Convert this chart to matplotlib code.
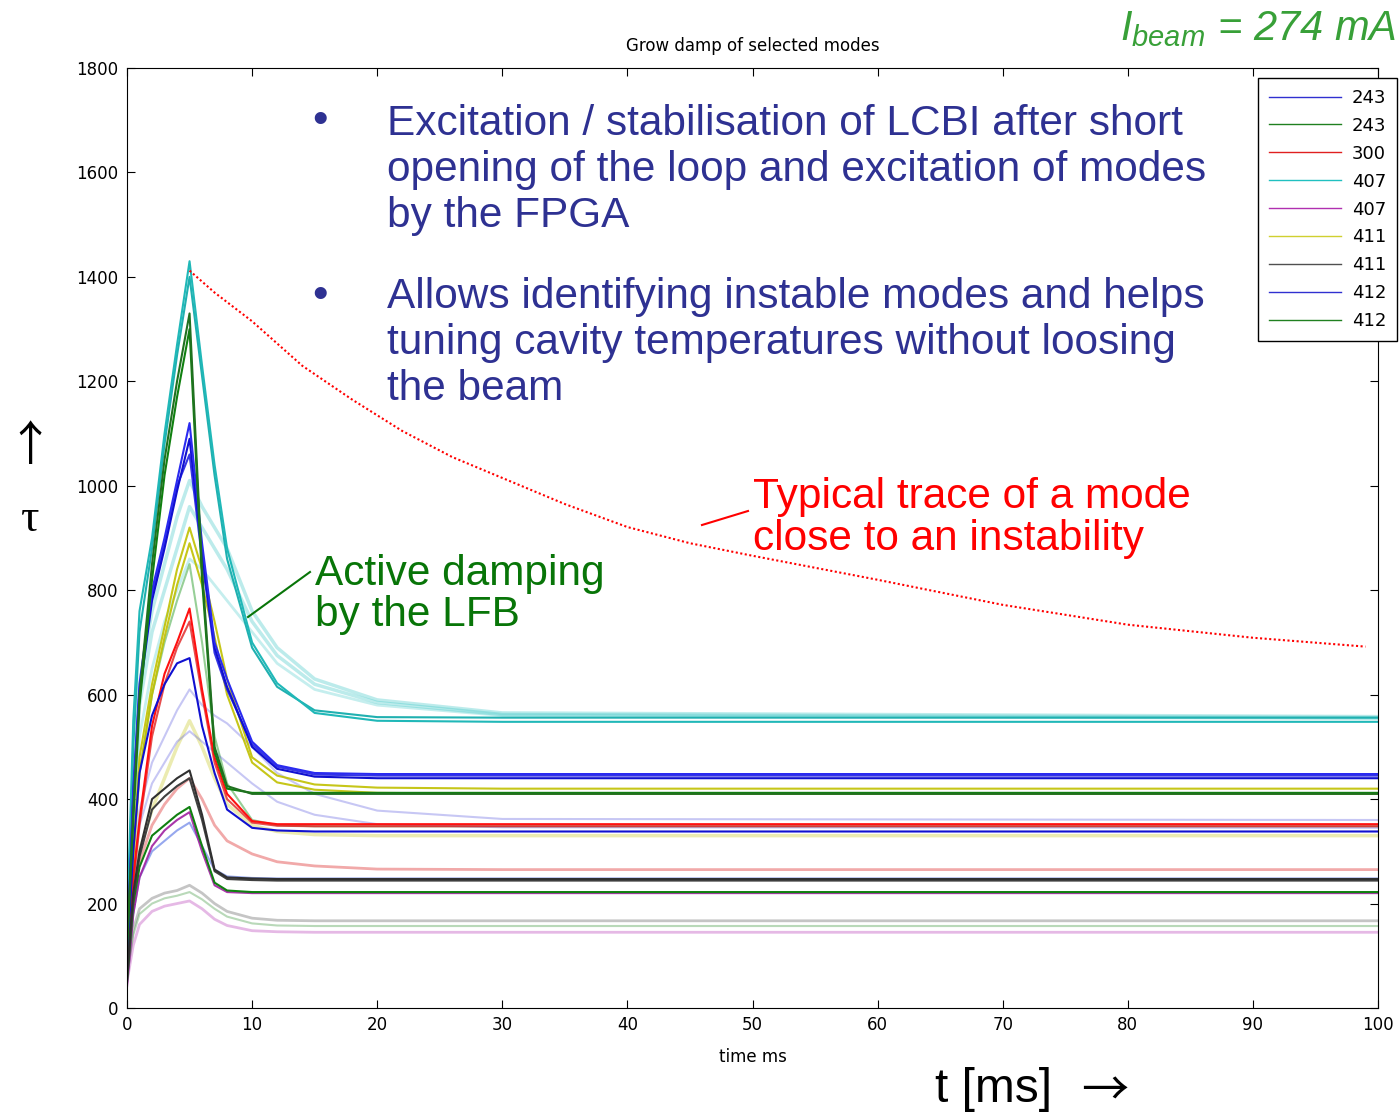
import matplotlib
matplotlib.use("Agg")
import matplotlib.pyplot as plt
from matplotlib.lines import Line2D

# time knots (ms) shared by all mode traces
t_knots = [0, 0.5, 1, 2, 3, 4, 5, 6, 7, 8, 10, 12, 15, 20, 30, 100]

# tau values at the knots
cyan_a = [150, 550, 760, 900, 1100, 1270, 1430, 1230, 1040, 880, 700, 622, 565, 550, 548, 548]
cyan_b = [130, 500, 720, 880, 1080, 1250, 1400, 1210, 1020, 860, 690, 615, 570, 557, 556, 556]
cyan_l1 = [120, 420, 620, 760, 850, 940, 1010, 960, 920, 880, 760, 690, 630, 590, 565, 558]
cyan_l2 = [110, 380, 580, 720, 800, 880, 960, 920, 880, 840, 740, 675, 620, 585, 562, 556]
cyan_l3 = [100, 350, 520, 650, 740, 800, 860, 840, 810, 780, 720, 660, 610, 580, 560, 554]
green_a = [120, 380, 600, 850, 1050, 1200, 1330, 840, 500, 425, 410, 410, 410, 410, 410, 410]
green_b = [110, 360, 580, 820, 1020, 1170, 1300, 820, 490, 420, 412, 412, 412, 412, 412, 412]
green_l = [100, 300, 450, 600, 700, 780, 850, 700, 520, 430, 360, 350, 348, 348, 348, 348]
blue_a = [100, 420, 620, 800, 900, 1010, 1120, 890, 700, 630, 510, 465, 450, 448, 448, 448]
blue_b = [90, 400, 600, 780, 880, 990, 1090, 870, 690, 615, 500, 458, 443, 440, 440, 440]
blue_c = [95, 410, 610, 790, 890, 1000, 1060, 860, 680, 610, 505, 462, 447, 445, 445, 445]
blue_d = [90, 300, 450, 560, 620, 660, 670, 540, 450, 380, 345, 340, 338, 338, 338, 338]
yellow_a = [90, 300, 480, 620, 730, 840, 920, 840, 740, 630, 480, 445, 428, 422, 420, 420]
yellow_b = [80, 280, 450, 600, 710, 810, 890, 810, 710, 600, 470, 432, 418, 412, 410, 410]
yellow_l = [70, 200, 300, 380, 440, 500, 550, 500, 440, 390, 350, 338, 332, 330, 330, 330]
red_a = [80, 250, 360, 540, 640, 700, 765, 610, 480, 410, 358, 352, 352, 352, 352, 352]
red_b = [75, 240, 350, 520, 620, 690, 740, 600, 470, 400, 355, 349, 348, 348, 348, 348]
pink_a = [70, 200, 280, 350, 390, 420, 440, 400, 350, 320, 295, 280, 272, 266, 265, 265]
purple_l1 = [70, 250, 380, 470, 520, 570, 610, 580, 560, 545, 500, 450, 410, 378, 362, 360]
purple_l2 = [65, 230, 350, 430, 470, 510, 530, 510, 490, 470, 430, 395, 370, 352, 346, 345]
gray_a = [60, 220, 300, 400, 420, 440, 455, 370, 265, 250, 248, 247, 247, 247, 247, 247]
gray_b = [55, 210, 290, 380, 405, 425, 440, 360, 262, 247, 245, 244, 244, 244, 244, 244]
green_c = [50, 200, 270, 330, 350, 370, 385, 310, 240, 225, 222, 222, 222, 222, 222, 222]
magenta_a = [40, 180, 250, 310, 340, 360, 375, 300, 235, 222, 220, 220, 220, 220, 220, 220]
lblue_a = [50, 180, 250, 300, 320, 340, 355, 310, 265, 252, 249, 248, 248, 248, 248, 248]
lgray_a = [60, 150, 190, 210, 220, 225, 235, 220, 200, 185, 172, 168, 167, 167, 167, 167]
lgreen_a = [60, 140, 180, 200, 210, 215, 222, 208, 190, 175, 162, 158, 157, 157, 157, 157]
lpink_a = [50, 120, 160, 185, 195, 200, 205, 190, 170, 158, 148, 146, 145, 145, 145, 145]

# red dotted "typical trace"
trace_t = [5, 7, 10, 14, 18, 22, 26, 30, 35, 40, 45, 50, 60, 70, 80, 90, 99]
trace_v = [1412, 1370, 1315, 1230, 1165, 1105, 1055, 1015, 965, 921, 890, 866, 820, 772, 734, 709, 692]

legend_labels = ["243", "243", "300", "407", "407", "411", "411", "412", "412"]
legend_colors = ["#3030d0", "#208020", "#e02020", "#20c0c0", "#b030b0",
                 "#d0d030", "#505050", "#3030d0", "#208020"]

# faint traces first, then the dark ones
faint = [
    (cyan_l1, "#40c8c8", 2.5, 0.35), (cyan_l2, "#40c8c8", 2.5, 0.35),
    (cyan_l3, "#40c8c8", 2.0, 0.3), (green_l, "#30a030", 1.5, 0.5),
    (yellow_l, "#c8c820", 2.5, 0.35), (pink_a, "#e04040", 2.0, 0.45),
    (purple_l1, "#6060e0", 1.5, 0.35), (purple_l2, "#6060e0", 1.5, 0.35),
    (lblue_a, "#4060e0", 1.5, 0.55), (lgray_a, "#808080", 2.0, 0.45),
    (lgreen_a, "#50a050", 1.5, 0.4), (lpink_a, "#c050c0", 2.0, 0.4),
]
dark = [
    (cyan_b, "#20b0b0", 1.5, 1.0), (cyan_a, "#20b8b8", 1.5, 1.0),
    (yellow_b, "#c0c000", 1.5, 0.9), (yellow_a, "#c0c000", 1.5, 0.9),
    (red_b, "#e02020", 1.5, 0.8), (red_a, "#ff1010", 1.5, 1.0),
    (blue_d, "#1010d0", 1.5, 1.0), (blue_c, "#2020e0", 1.5, 0.9),
    (blue_b, "#1010d0", 1.5, 1.0), (blue_a, "#2a2af0", 1.5, 1.0),
    (green_b, "#108010", 1.5, 1.0), (green_a, "#207020", 1.5, 1.0),
    (magenta_a, "#a020a0", 1.5, 0.9), (green_c, "#108010", 1.5, 1.0),
    (gray_b, "#404040", 1.5, 1.0), (gray_a, "#303030", 1.5, 1.0),
]

fig = plt.figure(figsize=(14, 11.16), dpi=100)
ax = fig.add_axes([127 / 1400, 108 / 1116, 1251 / 1400, 940 / 1116])

for vals, col, lw, al in faint + dark:
    ax.plot(t_knots, vals, color=col, lw=lw, alpha=al)

ax.plot(trace_t, trace_v, color="red", lw=1.5, linestyle=(0, (1, 1.2)))

ax.set_xlim(0, 100)
ax.set_ylim(0, 1800)
ax.set_xticks(range(0, 101, 10))
ax.set_yticks(range(0, 1801, 200))
ax.tick_params(direction="in", top=True, right=True, length=6, labelsize=12, pad=6)
ax.set_title("Grow damp of selected modes", fontsize=12, pad=12)
ax.set_xlabel("time ms", fontsize=12, labelpad=10)

handles = [Line2D([], [], color=c, lw=1) for c in legend_colors]
fig.legend(handles, legend_labels, loc="upper right",
           bbox_to_anchor=(1397 / 1400, 1 - 78 / 1116), borderaxespad=0,
           fontsize=13, frameon=True, fancybox=False, framealpha=1,
           edgecolor="black", handlelength=4.0, labelspacing=0.55,
           borderpad=0.6, handletextpad=0.6)

sans = ["Liberation Sans", "DejaVu Sans"]
blue_txt = "#2e3192"
fs = 30.5

def ftxt(px, py, s, **kw):
    kw.setdefault("family", sans)
    fig.text(px / 1400, 1 - py / 1116, s, va="baseline", **kw)

ftxt(320, 133, "\u2022", color=blue_txt, fontsize=32, ha="center")
ftxt(387, 135, "Excitation / stabilisation of LCBI after short", color=blue_txt, fontsize=fs)
ftxt(387, 181, "opening of the loop and excitation of modes", color=blue_txt, fontsize=fs)
ftxt(387, 227, "by the FPGA", color=blue_txt, fontsize=fs)
ftxt(320, 308, "\u2022", color=blue_txt, fontsize=32, ha="center")
ftxt(387, 308, "Allows identifying instable modes and helps", color=blue_txt, fontsize=fs)
ftxt(387, 354, "tuning cavity temperatures without loosing", color=blue_txt, fontsize=fs)
ftxt(387, 400, "the beam", color=blue_txt, fontsize=fs)

ftxt(753, 508, "Typical trace of a mode", color="red", fontsize=fs)
ftxt(753, 550, "close to an instability", color="red", fontsize=fs)
fig.add_artist(Line2D([702 / 1400, 748 / 1400], [1 - 525 / 1116, 1 - 511 / 1116],
                      color="red", lw=1.5))

green_txt = "#087508"
ftxt(315, 585, "Active damping", color=green_txt, fontsize=fs)
ftxt(315, 626, "by the LFB", color=green_txt, fontsize=fs)
fig.add_artist(Line2D([248 / 1400, 310 / 1400], [1 - 617 / 1116, 1 - 572 / 1116],
                      color=green_txt, lw=1.5))

plt.rcParams["mathtext.fontset"] = "custom"
plt.rcParams["mathtext.rm"] = "Liberation Sans"
plt.rcParams["mathtext.it"] = "Liberation Sans:italic"
ftxt(1396, 40, r"$I_{beam}$ = 274 mA", color="#38a038", fontsize=30,
     ha="right", style="italic")

arrow_font = ["Noto Sans CJK JP", "DejaVu Sans"]
fig.text(30 / 1400, 1 - 447 / 1116, "\u2191", family=arrow_font, fontsize=34,
         ha="center", va="center")
fig.text(30 / 1400, 1 - 520 / 1116, "\u03c4", family=["Liberation Serif", "DejaVu Serif"],
         fontsize=33, ha="center", va="center")
ftxt(935, 1102, "t [ms]", color="black", fontsize=34.5)
fig.text(1105 / 1400, 1 - 1092 / 1116, "\u2192", family=arrow_font, fontsize=34,
         ha="center", va="center")

fig.savefig("out.png", dpi=100)
